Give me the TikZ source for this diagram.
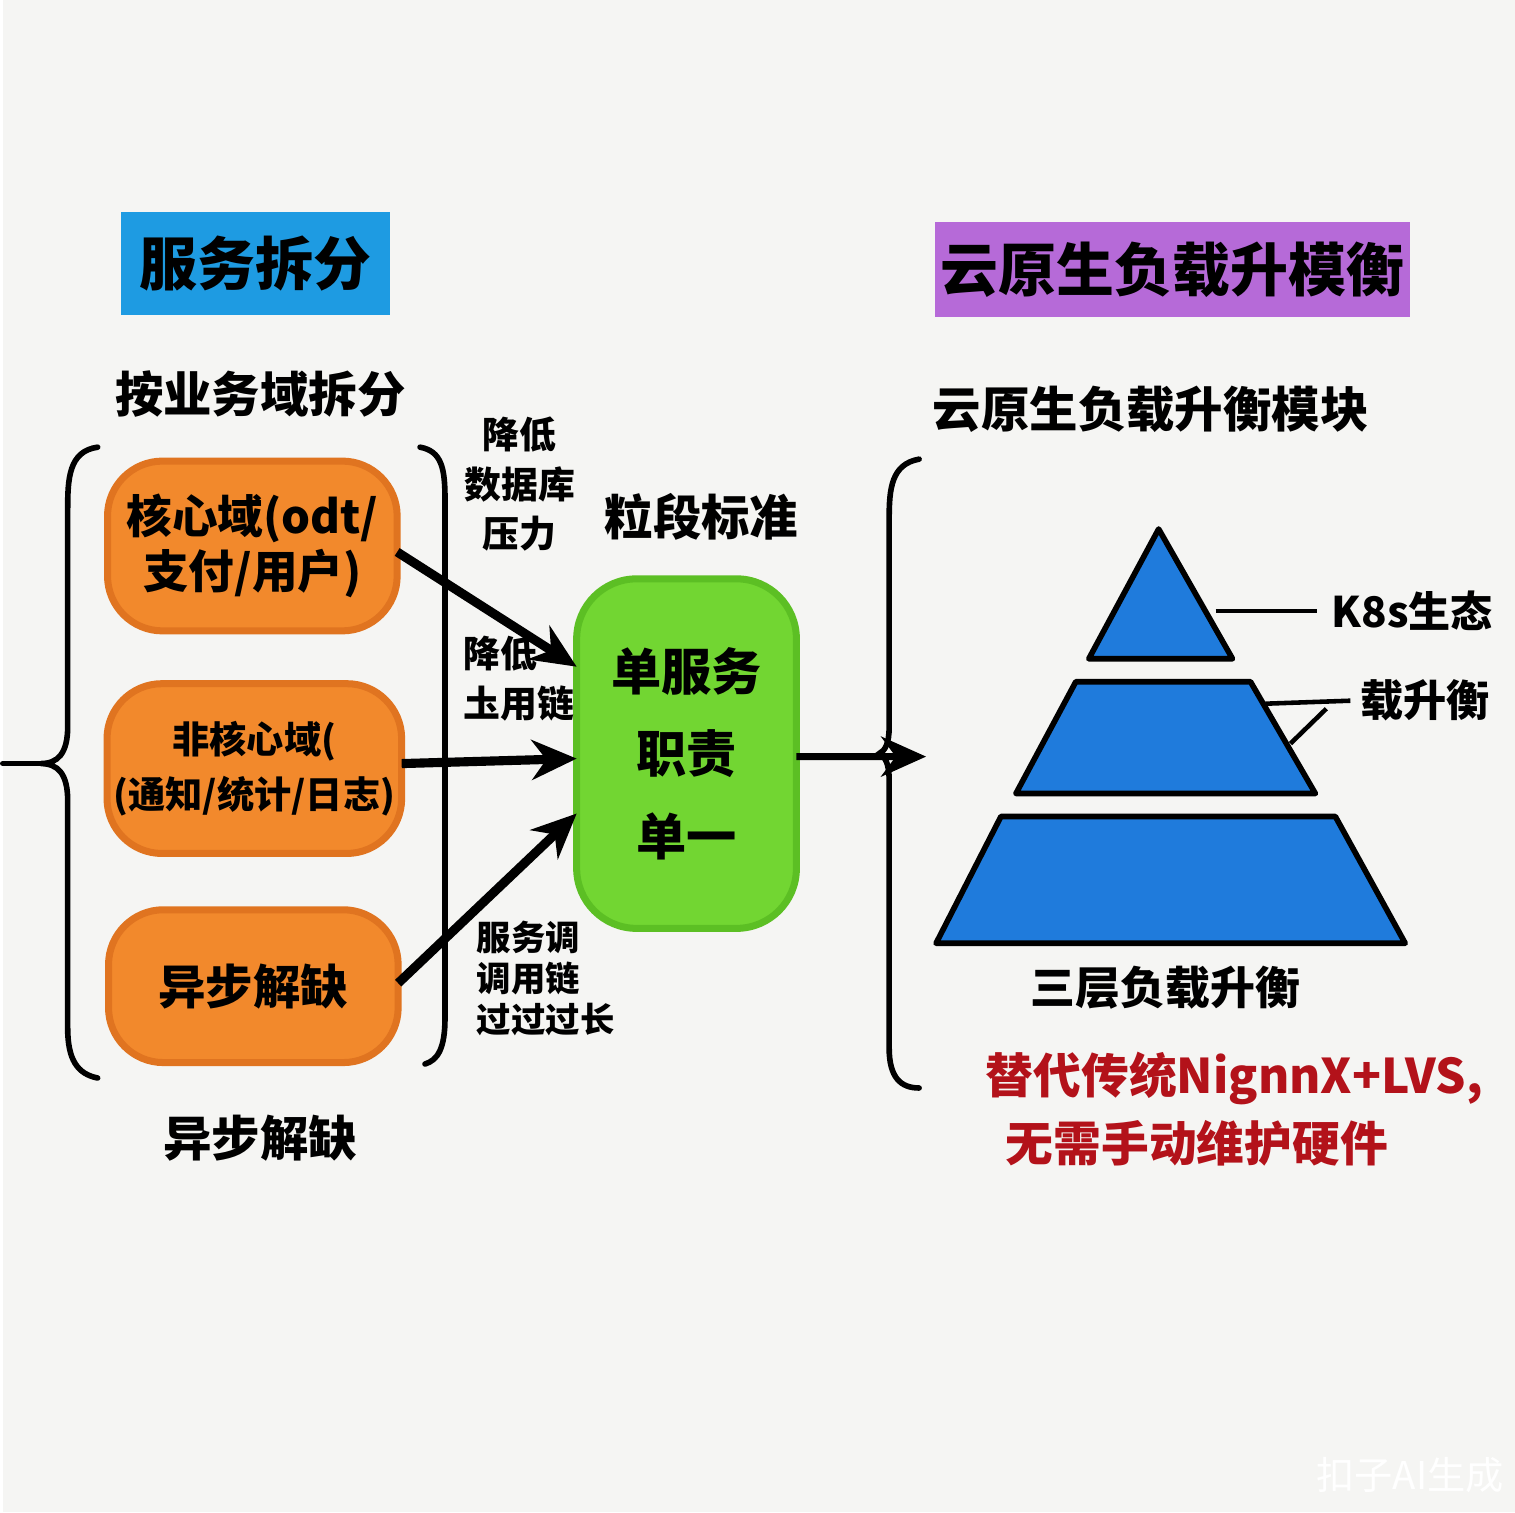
\documentclass[tikz,border=0pt]{standalone}
\usepackage{fontspec}
\setmainfont{Noto Sans CJK SC}
\usetikzlibrary{positioning,arrows.meta}
\definecolor{paper}{HTML}{F5F5F3}
\definecolor{skyblue}{HTML}{1E9BE2}
\definecolor{violet}{HTML}{B66AD8}
\definecolor{marker}{HTML}{F2892C}
\definecolor{markerdark}{HTML}{E07420}
\definecolor{lime}{HTML}{72D632}
\definecolor{limedark}{HTML}{5CBF24}
\definecolor{pyblue}{HTML}{1F7BDC}
\definecolor{inkred}{HTML}{B3121A}
\newcommand{\fs}[1]{\fontsize{#1}{#1}\selectfont\bfseries}

\begin{document}
\begin{tikzpicture}[x=0.01cm,y=-0.01cm,
      every node/.style={inner sep=0pt,outer sep=0pt},
      head/.style={font=\fs{16.5},minimum height=1cm},
      sub/.style={font=\fs{13.8}},
      dombox/.style={fill=marker,draw=markerdark,line width=2pt,rounded corners=0.55cm,minimum width=2.9cm,minimum height=1.7cm,align=center},
      note/.style={font=\fs{10.5},align=center},
      arrow/.style={-{Stealth[length=4.5mm,width=4mm]},line width=2.6pt},
      brace/.style={line width=1.6pt,line cap=round},
      layer/.style={fill=pyblue,draw=black,line width=1.6pt,line join=round},
      redtext/.style={font=\fs{13.6},text=inkred,anchor=west}]
  \fill[paper] (0,0) rectangle (1515,1515);

  % left half: service split
  \node[head,fill=skyblue,minimum width=2.7cm,minimum height=1.04cm] (split) at (253,264) {服务拆分};
  \node[sub] (bydomain) at (258,395) {按业务域拆分};
  \node[dombox,font=\fontsize{13}{15.5}\selectfont\bfseries] (core) at (250,547) {核心域(odt/\\支付/用户)};
  \node[dombox,font=\fontsize{10.6}{15.5}\selectfont\bfseries,minimum width=2.95cm] (noncore) at (252,770) {非核心域(\\(通知/统计/日志)};
  \node[dombox,font=\fs{13.5},minimum height=1.53cm] (async) at (251,988) {异步解缺};
  \node[sub] (asyncnote) at (258,1140) {异步解缺};
  \draw[brace] (0,765) -- (38,765);
  \draw[brace] (95,448) .. controls (66,452) and (65,480) .. (65,510) -- (65,728)
    .. controls (65,755) and (55,765) .. (38,765) .. controls (55,765) and (65,775) .. (65,802)
    -- (65,1030) .. controls (65,1062) and (75,1076) .. (95,1080);
  \draw[brace] (418,448) .. controls (440,452) and (443,470) .. (443,500) -- (443,1020)
    .. controls (443,1050) and (436,1062) .. (423,1066);

  % middle: single responsibility
  \node[sub] (grain) at (700,518) {粒段标准};
  \node[fill=lime,draw=limedark,line width=2pt,rounded corners=0.6cm,minimum width=2.2cm,minimum height=3.5cm,
        align=center,font=\fontsize{14.3}{23.5}\selectfont\bfseries] (single) at (685,755) {单服务\\职责\\单一};
  \node[note,font=\fontsize{10.5}{14.2}\selectfont\bfseries] (dbnote) at (518,485) {降低\\数据库\\压力};
  \node[note,align=left,anchor=west,font=\fontsize{10.5}{14.2}\selectfont\bfseries] (chainnote) at (462,680) {降低\\圡用链};
  \node[note,align=left,anchor=west,font=\fontsize{9.8}{11.7}\selectfont\bfseries] (longnote) at (475,980) {服务调\\调用链\\过过过长};
  \draw[arrow] ([yshift=-0.06cm]core.east) -- ([yshift=0.87cm]single.west);
  \draw[arrow] ([yshift=0.05cm]noncore.east) -- ([yshift=-0.05cm]single.west);
  \draw[arrow] ([yshift=0.03cm]async.east) -- ([yshift=-0.6cm]single.west);
  \coordinate (pyr) at (925,758);
  \draw[arrow,line width=2pt] ([yshift=-0.03cm]single.east) -- (pyr);

  % right half: cloud-native load balancing
  \node[head,fill=violet,minimum width=4.75cm,minimum height=0.96cm] (cloud) at (1172,270) {云原生负载升模衡};
  \node[sub] (module) at (1150,410) {云原生负载升衡模块};
  \draw[brace] (918,460) .. controls (890,465) and (888,490) .. (888,520) -- (888,728)
    .. controls (888,745) and (884,752) .. (878,755) .. controls (884,758) and (888,765) .. (888,782)
    -- (888,1050) .. controls (888,1080) and (900,1090) .. (918,1090);
  \draw[layer] (1158,530) -- (1232,660) -- (1088,660) -- cycle;
  \draw[layer] (1075,683) -- (1250,683) -- (1315,795) -- (1015,795) -- cycle;
  \draw[layer] (1000,818) -- (1335,818) -- (1405,945) -- (935,945) -- cycle;
  \node[font=\fs{12}] (k8s) at (1412,612) {K8s生态};
  \node[font=\fs{12.3}] (lb) at (1425,702) {载升衡};
  \draw[line width=1.3pt] (1215,612) -- ([xshift=-0.15cm]k8s.west);
  \draw[line width=1.3pt] (1265,705) -- ([xshift=-0.1cm]lb.west);
  \draw[line width=1.3pt] (1290,745) -- (1326,710);
  \node[font=\fs{12.8}] (three) at (1165,990) {三层负载升衡};
  \node[redtext] (redline) at (985,1080) {替代传统NignnX+LVS,};
  \node[redtext] (redline2) at (1005,1145) {无需手动维护硬件};
  \node[font=\fontsize{10.9}{11}\selectfont,text=white] (mark) at (1410,1478) {扣子AI生成};
\end{tikzpicture}
\end{document}
